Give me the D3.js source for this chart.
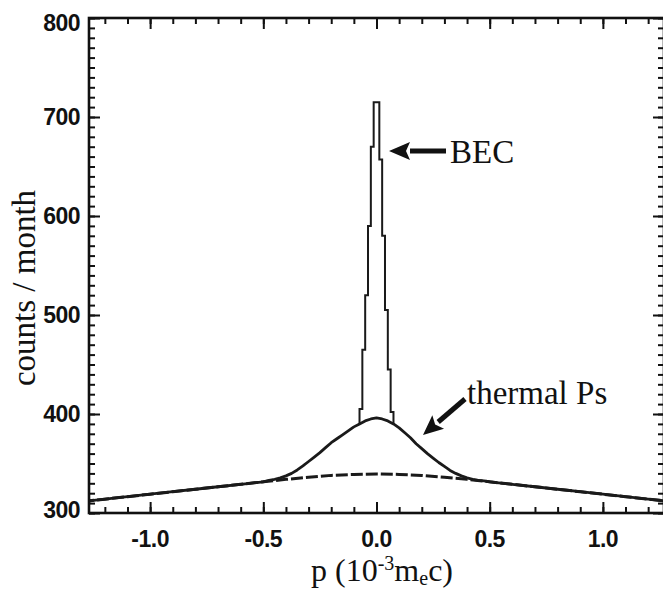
<!DOCTYPE html>
<html>
<head>
<meta charset="utf-8">
<script src="https://cdn.jsdelivr.net/npm/d3@7"></script>
<style>
  html, body { margin: 0; padding: 0; background: #fff; }
  svg { display: block; }
  .tick-label { font-family: "Liberation Sans", Arial, sans-serif; font-weight: bold; font-size: 23px; letter-spacing: -0.5px; fill: #111; }
  .title { font-family: "Liberation Serif", "Times New Roman", serif; font-size: 33px; fill: #111; }
</style>
</head>
<body>
<svg id="chart" width="663" height="591"></svg>
<script>
// Broad momentum distribution (dashed curve), counts per month
const broadP = [-1.3, -1.2, -1.1, -1.0, -0.9, -0.8, -0.7, -0.6, -0.5, -0.4, -0.3, -0.2, -0.1,
  0, 0.1, 0.2, 0.3, 0.4, 0.5, 0.6, 0.7, 0.8, 0.9, 1.0, 1.1, 1.2, 1.3];
const broadCounts = [311.5, 314, 316.5, 319, 321.5, 324, 326.5, 329, 331.5, 334, 336, 338, 339,
  339.5, 339, 338, 336, 334, 331.5, 329, 326.5, 324, 321.5, 319, 316.5, 314, 311.5];

// Thermal Ps peak (solid curve, central region)
const thermalP = [-0.475, -0.45, -0.425, -0.4, -0.375, -0.35, -0.325, -0.3, -0.275, -0.25, -0.225, -0.2,
  -0.175, -0.15, -0.125, -0.1, -0.075, -0.05, -0.025, 0, 0.025, 0.05, 0.075, 0.1, 0.125, 0.15,
  0.175, 0.2, 0.225, 0.25, 0.275, 0.3, 0.325, 0.35, 0.375, 0.4, 0.425, 0.45, 0.475];
const thermalCounts = [333, 334, 335.5, 337.5, 340, 343.5, 347.5, 352, 356.5, 361, 366, 371,
  375, 379, 383, 387, 390, 393, 395, 396, 395, 393, 390, 386, 381, 376,
  370, 365, 360, 355.5, 351, 347, 343, 340, 337.5, 335.5, 334, 333, 332.5];

// BEC spike histogram: bin edges and counts per bin
const becEdges = [-0.075, -0.0625, -0.05, -0.0375, -0.025, -0.0125, 0,
  0.0125, 0.025, 0.0375, 0.05, 0.0625, 0.075];
const becCounts = [405, 465, 520, 590, 670, 715, 715, 657, 580, 505, 445, 402];

// Axis ticks
const xMajorTicks = [-1.0, -0.5, 0.0, 0.5, 1.0];
const xTickLabels = ["-1.0", "-0.5", "0.0", "0.5", "1.0"];
const yMajorTicks = [300, 400, 500, 600, 700, 800];
const yTickLabels = ["300", "400", "500", "600", "700", "800"];

const svg = d3.select("#chart");
const frame = { left: 89, right: 664, top: 18, bottom: 513 };

const x = d3.scaleLinear().domain([-1.27, 1.27]).range([frame.left, frame.right]);
const y = d3.scaleLinear().domain([300, 800]).range([frame.bottom, frame.top]);

svg.append("defs").append("clipPath").attr("id", "plotClip")
  .append("rect").attr("x", frame.left).attr("y", frame.top)
  .attr("width", frame.right - frame.left).attr("height", frame.bottom - frame.top);

const plot = svg.append("g").attr("clip-path", "url(#plotClip)");

const line = d3.line().x(d => x(d.p)).y(d => y(d.c));

const broad = broadP.map((p, i) => ({ p, c: broadCounts[i] }));
const thermal = thermalP.map((p, i) => ({ p, c: thermalCounts[i] }));

// Dashed broad component over the full range
plot.append("path")
  .datum(broad)
  .attr("d", line)
  .attr("fill", "none")
  .attr("stroke", "#1a1a1a")
  .attr("stroke-width", 3)
  .attr("stroke-dasharray", "12,3");

// Solid sum: broad tails joined to the thermal peak
const total = broad.filter(d => d.p <= -0.5)
  .concat(thermal)
  .concat(broad.filter(d => d.p >= 0.5));
plot.append("path")
  .datum(total)
  .attr("d", line)
  .attr("fill", "none")
  .attr("stroke", "#1a1a1a")
  .attr("stroke-width", 2.8)
  .attr("stroke-linejoin", "round");

// BEC spike as a step histogram rising out of the thermal curve
const baseL = thermalCounts[thermalP.indexOf(becEdges[0])];
const baseR = thermalCounts[thermalP.indexOf(becEdges[becEdges.length - 1])];
const spike = [{ p: becEdges[0], c: baseL }]
  .concat(becCounts.map((c, i) => ({ p: becEdges[i], c })))
  .concat([{ p: becEdges[becEdges.length - 1], c: becCounts[becCounts.length - 1] },
           { p: becEdges[becEdges.length - 1], c: baseR }]);
plot.append("path")
  .datum(spike)
  .attr("d", d3.line().curve(d3.curveStepAfter).x(d => x(d.p)).y(d => y(d.c)))
  .attr("fill", "none")
  .attr("stroke", "#1a1a1a")
  .attr("stroke-width", 2);

// Axes with inward ticks on all four sides
const xMinor = d3.range(-12, 13).map(i => i / 10);
const yMinor = d3.range(300, 801, 10);

function styleAxis(g) {
  g.select(".domain").remove();
  g.selectAll(".tick line").attr("stroke", "#111").attr("stroke-width", 2);
  g.selectAll(".tick text").remove();
}

svg.append("g").attr("transform", `translate(0,${frame.bottom})`)
  .call(d3.axisBottom(x).tickValues(xMinor).tickSizeInner(-6).tickSizeOuter(0)).call(styleAxis);
svg.append("g").attr("transform", `translate(0,${frame.bottom})`)
  .call(d3.axisBottom(x).tickValues(xMajorTicks).tickSizeInner(-11).tickSizeOuter(0)).call(styleAxis);
svg.append("g").attr("transform", `translate(0,${frame.top})`)
  .call(d3.axisTop(x).tickValues(xMinor).tickSizeInner(-6).tickSizeOuter(0)).call(styleAxis);
svg.append("g").attr("transform", `translate(0,${frame.top})`)
  .call(d3.axisTop(x).tickValues(xMajorTicks).tickSizeInner(-11).tickSizeOuter(0)).call(styleAxis);

svg.append("g").attr("transform", `translate(${frame.left},0)`)
  .call(d3.axisLeft(y).tickValues(yMinor).tickSizeInner(-6).tickSizeOuter(0)).call(styleAxis);
svg.append("g").attr("transform", `translate(${frame.left},0)`)
  .call(d3.axisLeft(y).tickValues(yMajorTicks).tickSizeInner(-11).tickSizeOuter(0)).call(styleAxis);
svg.append("g").attr("transform", `translate(${frame.right},0)`)
  .call(d3.axisRight(y).tickValues(yMinor).tickSizeInner(-6).tickSizeOuter(0)).call(styleAxis);
svg.append("g").attr("transform", `translate(${frame.right},0)`)
  .call(d3.axisRight(y).tickValues(yMajorTicks).tickSizeInner(-11).tickSizeOuter(0)).call(styleAxis);

// Frame
svg.append("rect")
  .attr("x", frame.left).attr("y", frame.top)
  .attr("width", frame.right - frame.left).attr("height", frame.bottom - frame.top)
  .attr("fill", "none").attr("stroke", "#111").attr("stroke-width", 2.6);

// Tick labels
svg.selectAll(".xlab").data(xMajorTicks).enter().append("text")
  .attr("class", "tick-label")
  .attr("x", d => x(d)).attr("y", 547)
  .attr("text-anchor", "middle")
  .text((d, i) => xTickLabels[i]);

svg.selectAll(".ylab").data(yMajorTicks).enter().append("text")
  .attr("class", "tick-label")
  .attr("x", frame.left - 9)
  .attr("y", d => y(d) + 8 + (d === 800 ? 5 : d === 300 ? -3 : 0))
  .attr("text-anchor", "end")
  .text((d, i) => yTickLabels[i]);

// Axis titles
const xt = svg.append("text").attr("class", "title")
  .attr("x", 382).attr("y", 581).attr("text-anchor", "middle")
  .style("font-size", "32px");
xt.append("tspan").text("p (10");
xt.append("tspan").attr("font-size", 20).attr("dy", -11).text("-3");
xt.append("tspan").attr("dy", 11).text("m");
xt.append("tspan").attr("font-size", 20).attr("dy", 4).text("e");
xt.append("tspan").attr("dy", -4).text("c)");

svg.append("text").attr("class", "title")
  .attr("transform", "translate(35,288) rotate(-90)")
  .attr("text-anchor", "middle")
  .text("counts / month");

// Annotations
function arrow(x1, y1, x2, y2, headLen, headHalf, shaft) {
  const ang = Math.atan2(y2 - y1, x2 - x1);
  const bx = x2 - headLen * Math.cos(ang), by = y2 - headLen * Math.sin(ang);
  svg.append("line")
    .attr("x1", x1).attr("y1", y1).attr("x2", bx).attr("y2", by)
    .attr("stroke", "#111").attr("stroke-width", shaft);
  const nx = -Math.sin(ang), ny = Math.cos(ang);
  svg.append("path")
    .attr("d", `M${x2},${y2}L${bx + nx * headHalf},${by + ny * headHalf}` +
               `L${bx + 4 * Math.cos(ang)},${by + 4 * Math.sin(ang)}` +
               `L${bx - nx * headHalf},${by - ny * headHalf}Z`)
    .attr("fill", "#111");
}

arrow(446, 151, 389, 151, 21, 9, 5);
svg.append("text").attr("class", "title")
  .attr("x", 450).attr("y", 163).text("BEC");

arrow(465, 399, 423, 435, 20, 9, 5);
svg.append("text").attr("class", "title")
  .attr("x", 467).attr("y", 404).text("thermal Ps");
</script>
</body>
</html>
